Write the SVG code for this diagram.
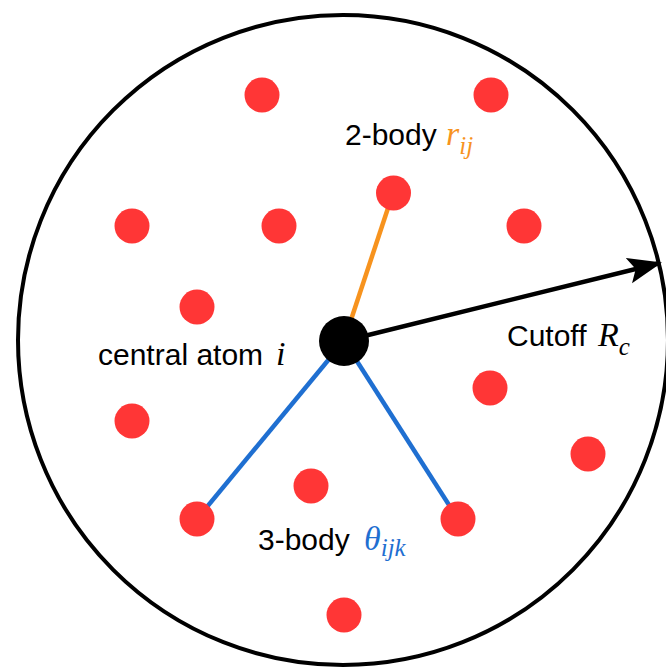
<svg xmlns="http://www.w3.org/2000/svg" width="666" height="668" viewBox="0 0 666 668">
<style>
.atom{fill:#ff3636}
.lbl{font-family:"Liberation Sans",Arial,sans-serif;font-size:30px;fill:#000}
.math{font-family:"Liberation Serif","Times New Roman",serif;font-style:italic;font-size:34px}
.sub{font-family:"Liberation Serif","Times New Roman",serif;font-style:italic;font-size:25px}
.or{stroke:#f7931e;stroke-width:4.5;fill:none}
.bl{stroke:#1f6fd1;stroke-width:4.5;fill:none}
</style>
<defs>
<marker id="ah" markerUnits="userSpaceOnUse" markerWidth="34" markerHeight="28" refX="32" refY="13" orient="auto">
<path d="M0,0 L34,13 L0,26 L7,13 Z" fill="#000"/>
</marker>
</defs>
<rect width="666" height="668" fill="#fff"/>
<g id="cutoff-sphere"><circle cx="343" cy="340" r="325" fill="none" stroke="#000" stroke-width="4"/></g>
<g id="connectors">
<line class="or" x1="344" y1="341" x2="393" y2="193"/>
<line class="bl" x1="344" y1="341" x2="197" y2="519"/>
<line class="bl" x1="344" y1="341" x2="458" y2="519"/>
<line x1="344" y1="341" x2="660" y2="263" stroke="#000" stroke-width="4.5" marker-end="url(#ah)"/>
</g>
<g id="atom-1"><circle class="atom" cx="262" cy="95" r="17.5"/></g>
<g id="atom-2"><circle class="atom" cx="491" cy="95" r="17.5"/></g>
<g id="atom-j"><circle class="atom" cx="393.5" cy="193" r="17.5"/></g>
<g id="atom-3"><circle class="atom" cx="132" cy="226" r="17.5"/></g>
<g id="atom-4"><circle class="atom" cx="279" cy="226" r="17.5"/></g>
<g id="atom-5"><circle class="atom" cx="524" cy="226" r="17.5"/></g>
<g id="atom-6"><circle class="atom" cx="197" cy="307" r="17.5"/></g>
<g id="atom-7"><circle class="atom" cx="490" cy="388" r="17.5"/></g>
<g id="atom-8"><circle class="atom" cx="132" cy="421" r="17.5"/></g>
<g id="atom-9"><circle class="atom" cx="588" cy="454" r="17.5"/></g>
<g id="atom-10"><circle class="atom" cx="311" cy="486" r="17.5"/></g>
<g id="atom-k1"><circle class="atom" cx="197" cy="519" r="17.5"/></g>
<g id="atom-k2"><circle class="atom" cx="458" cy="519" r="17.5"/></g>
<g id="atom-11"><circle class="atom" cx="344" cy="615" r="17.5"/></g>
<g id="atom-i"><circle cx="344" cy="341" r="25" fill="#000"/></g>
<g id="label-2body"><text class="lbl" x="345" y="145">2-body <tspan class="math" fill="#f7931e" x="446">r</tspan><tspan class="sub" fill="#f7931e" dy="9">ij</tspan></text></g>
<g id="label-central"><text class="lbl" x="98" y="365">central atom <tspan class="math" x="276">i</tspan></text></g>
<g id="label-cutoff"><text class="lbl" x="507" y="346">Cutoff <tspan class="math" x="598">R</tspan><tspan class="sub" dy="9">c</tspan></text></g>
<g id="label-3body"><text class="lbl" x="258" y="550">3-body <tspan class="math" fill="#1f6fd1" x="364">θ</tspan><tspan class="sub" fill="#1f6fd1" dy="6">ijk</tspan></text></g>
</svg>
